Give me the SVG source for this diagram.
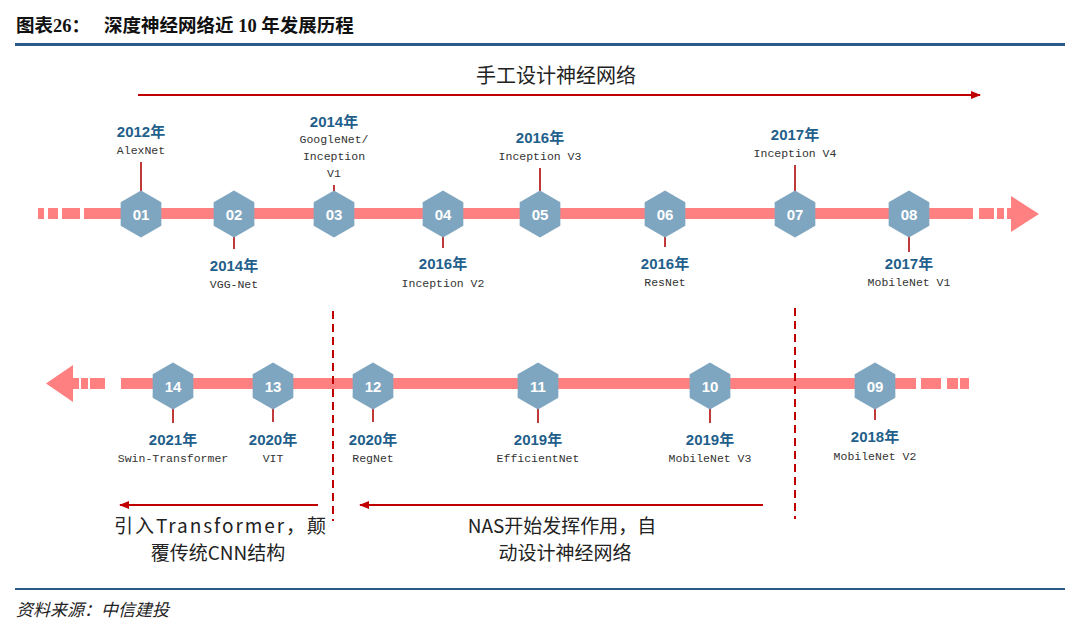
<svg xmlns="http://www.w3.org/2000/svg" xmlns:xlink="http://www.w3.org/1999/xlink" width="1080" height="627" viewBox="0 0 1080 627">
<style>
.title{font-family:"Liberation Serif","Noto Sans CJK SC",serif;font-weight:bold;font-size:18.5px;fill:#111}
.foot{font-family:"Noto Sans CJK SC",sans-serif;font-style:italic;font-size:17px;fill:#222}
.bar{fill:#FF8080}
.hex{fill:#7FA6C0}
.num{font-family:"Liberation Sans",Arial,sans-serif;font-weight:bold;font-size:15px;fill:#fff;text-anchor:middle}
.tick{stroke:#C0393B;stroke-width:2}
.yr{font-family:"Liberation Sans","Noto Sans CJK SC",sans-serif;font-weight:bold;font-size:15px;fill:#1F5F8B;text-anchor:middle}
.nm{font-family:"Liberation Mono","DejaVu Sans Mono",monospace;font-size:11.5px;fill:#333;text-anchor:middle}
.big{font-family:"Noto Sans CJK SC",sans-serif;font-size:19px;fill:#222;text-anchor:middle}
.rarr{stroke:#C00000;stroke-width:2;fill:none}
.vdash{stroke:#C00000;stroke-width:2;stroke-dasharray:8,5;fill:none}
</style>
<defs>
<polygon id="hexshape" points="0,-23.5 20.35,-11.75 20.35,11.75 0,23.5 -20.35,11.75 -20.35,-11.75"/>
<marker id="ah" markerUnits="userSpaceOnUse" markerWidth="10" markerHeight="8" refX="9" refY="4" orient="auto">
<path d="M0,0 L10,4 L0,8 z" fill="#C00000"/>
</marker>
</defs>
<rect width="1080" height="627" fill="#fff"/>

<g id="header">
<text class="title" x="16" y="32">图表26：</text>
<text class="title" x="104" y="32">深度神经网络近 10 年发展历程</text>
<rect x="15" y="43" width="1050" height="3" fill="#2B5A8A"/>
</g>

<g id="footer">
<rect x="15" y="588" width="1050" height="2" fill="#2B5A8A"/>
<text class="foot" x="16" y="616">资料来源：中信建投</text>
</g>

<g id="timeline-top">
<rect class="bar" x="38" y="208" width="6" height="11"/>
<rect class="bar" x="48" y="208" width="10" height="11"/>
<rect class="bar" x="62" y="208" width="18" height="11"/>
<rect class="bar" x="84" y="208" width="889" height="11"/>
<rect class="bar" x="979" y="208" width="15" height="11"/>
<rect class="bar" x="997" y="208" width="7" height="11"/>
<rect class="bar" x="1007" y="208" width="6" height="11"/>
<polygon class="bar" points="1011,196 1039,214 1011,232"/>
</g>

<g id="timeline-bottom">
<polygon class="bar" points="46,383.5 73,365 73,402"/>
<rect class="bar" x="72" y="378" width="7" height="11"/>
<rect class="bar" x="81" y="378" width="7" height="11"/>
<rect class="bar" x="90" y="378" width="15" height="11"/>
<rect class="bar" x="121" y="378" width="795" height="11"/>
<rect class="bar" x="921" y="378" width="20" height="11"/>
<rect class="bar" x="947" y="378" width="11" height="11"/>
<rect class="bar" x="960" y="378" width="9" height="11"/>
</g>

<g id="connectors">
<line class="rarr" x1="138" y1="95" x2="980" y2="95" marker-end="url(#ah)"/>
<line class="rarr" x1="318" y1="505" x2="120" y2="505" marker-end="url(#ah)"/>
<line class="rarr" x1="763" y1="505" x2="360" y2="505" marker-end="url(#ah)"/>
<line class="vdash" x1="333" y1="311" x2="333" y2="521"/>
<line class="vdash" x1="795" y1="308" x2="795" y2="519"/>
</g>

<g id="label-manual">
<text class="big" x="556" y="83" style="font-size:20px">手工设计神经网络</text>
</g>
<g id="label-transformer">
<text class="big" x="220" y="533" textLength="212" lengthAdjust="spacing">引入Transformer，颠</text>
<text class="big" x="218" y="560">覆传统CNN结构</text>
</g>
<g id="label-nas">
<text class="big" x="562" y="533">NAS开始发挥作用，自</text>
<text class="big" x="565" y="560">动设计神经网络</text>
</g>

<g id="n01">
<line class="tick" x1="141" y1="162" x2="141" y2="191"/>
<use xlink:href="#hexshape" class="hex" x="141" y="214"/>
<text class="num" x="141" y="219.5">01</text>
<text class="yr" x="141" y="137">2012年</text>
<text class="nm" x="141" y="154">AlexNet</text>
</g>
<g id="n02">
<line class="tick" x1="234" y1="237" x2="234" y2="249"/>
<use xlink:href="#hexshape" class="hex" x="234" y="214"/>
<text class="num" x="234" y="219.5">02</text>
<text class="yr" x="234" y="271">2014年</text>
<text class="nm" x="234" y="288">VGG-Net</text>
</g>
<g id="n03">
<line class="tick" x1="334" y1="185" x2="334" y2="191"/>
<use xlink:href="#hexshape" class="hex" x="334" y="214"/>
<text class="num" x="334" y="219.5">03</text>
<text class="yr" x="334" y="127">2014年</text>
<text class="nm" x="334" y="143">GoogleNet/</text>
<text class="nm" x="334" y="160">Inception</text>
<text class="nm" x="334" y="177">V1</text>
</g>
<g id="n04">
<line class="tick" x1="443" y1="237" x2="443" y2="248"/>
<use xlink:href="#hexshape" class="hex" x="443" y="214"/>
<text class="num" x="443" y="219.5">04</text>
<text class="yr" x="443" y="269">2016年</text>
<text class="nm" x="443" y="287">Inception V2</text>
</g>
<g id="n05">
<line class="tick" x1="540" y1="168" x2="540" y2="191"/>
<use xlink:href="#hexshape" class="hex" x="540" y="214"/>
<text class="num" x="540" y="219.5">05</text>
<text class="yr" x="540" y="143">2016年</text>
<text class="nm" x="540" y="160">Inception V3</text>
</g>
<g id="n06">
<line class="tick" x1="665" y1="237" x2="665" y2="247"/>
<use xlink:href="#hexshape" class="hex" x="665" y="214"/>
<text class="num" x="665" y="219.5">06</text>
<text class="yr" x="665" y="269">2016年</text>
<text class="nm" x="665" y="286">ResNet</text>
</g>
<g id="n07">
<line class="tick" x1="795" y1="165" x2="795" y2="191"/>
<use xlink:href="#hexshape" class="hex" x="795" y="214"/>
<text class="num" x="795" y="219.5">07</text>
<text class="yr" x="795" y="140">2017年</text>
<text class="nm" x="795" y="157">Inception V4</text>
</g>
<g id="n08">
<line class="tick" x1="909" y1="237" x2="909" y2="252"/>
<use xlink:href="#hexshape" class="hex" x="909" y="214"/>
<text class="num" x="909" y="219.5">08</text>
<text class="yr" x="909" y="269">2017年</text>
<text class="nm" x="909" y="286">MobileNet V1</text>
</g>

<g id="n09">
<line class="tick" x1="875" y1="409" x2="875" y2="420"/>
<use xlink:href="#hexshape" class="hex" x="875" y="386"/>
<text class="num" x="875" y="391.5">09</text>
<text class="yr" x="875" y="442">2018年</text>
<text class="nm" x="875" y="460">MobileNet V2</text>
</g>
<g id="n10">
<line class="tick" x1="710" y1="409" x2="710" y2="423"/>
<use xlink:href="#hexshape" class="hex" x="710" y="386"/>
<text class="num" x="710" y="391.5">10</text>
<text class="yr" x="710" y="445">2019年</text>
<text class="nm" x="710" y="462">MobileNet V3</text>
</g>
<g id="n11">
<line class="tick" x1="538" y1="409" x2="538" y2="423"/>
<use xlink:href="#hexshape" class="hex" x="538" y="386"/>
<text class="num" x="538" y="391.5">11</text>
<text class="yr" x="538" y="445">2019年</text>
<text class="nm" x="538" y="462">EfficientNet</text>
</g>
<g id="n12">
<line class="tick" x1="373" y1="409" x2="373" y2="422"/>
<use xlink:href="#hexshape" class="hex" x="373" y="386"/>
<text class="num" x="373" y="391.5">12</text>
<text class="yr" x="373" y="445">2020年</text>
<text class="nm" x="373" y="462">RegNet</text>
</g>
<g id="n13">
<line class="tick" x1="273" y1="409" x2="273" y2="422"/>
<use xlink:href="#hexshape" class="hex" x="273" y="386"/>
<text class="num" x="273" y="391.5">13</text>
<text class="yr" x="273" y="445">2020年</text>
<text class="nm" x="273" y="462">VIT</text>
</g>
<g id="n14">
<line class="tick" x1="173" y1="409" x2="173" y2="423"/>
<use xlink:href="#hexshape" class="hex" x="173" y="386"/>
<text class="num" x="173" y="391.5">14</text>
<text class="yr" x="173" y="445">2021年</text>
<text class="nm" x="173" y="462">Swin-Transformer</text>
</g>
</svg>
